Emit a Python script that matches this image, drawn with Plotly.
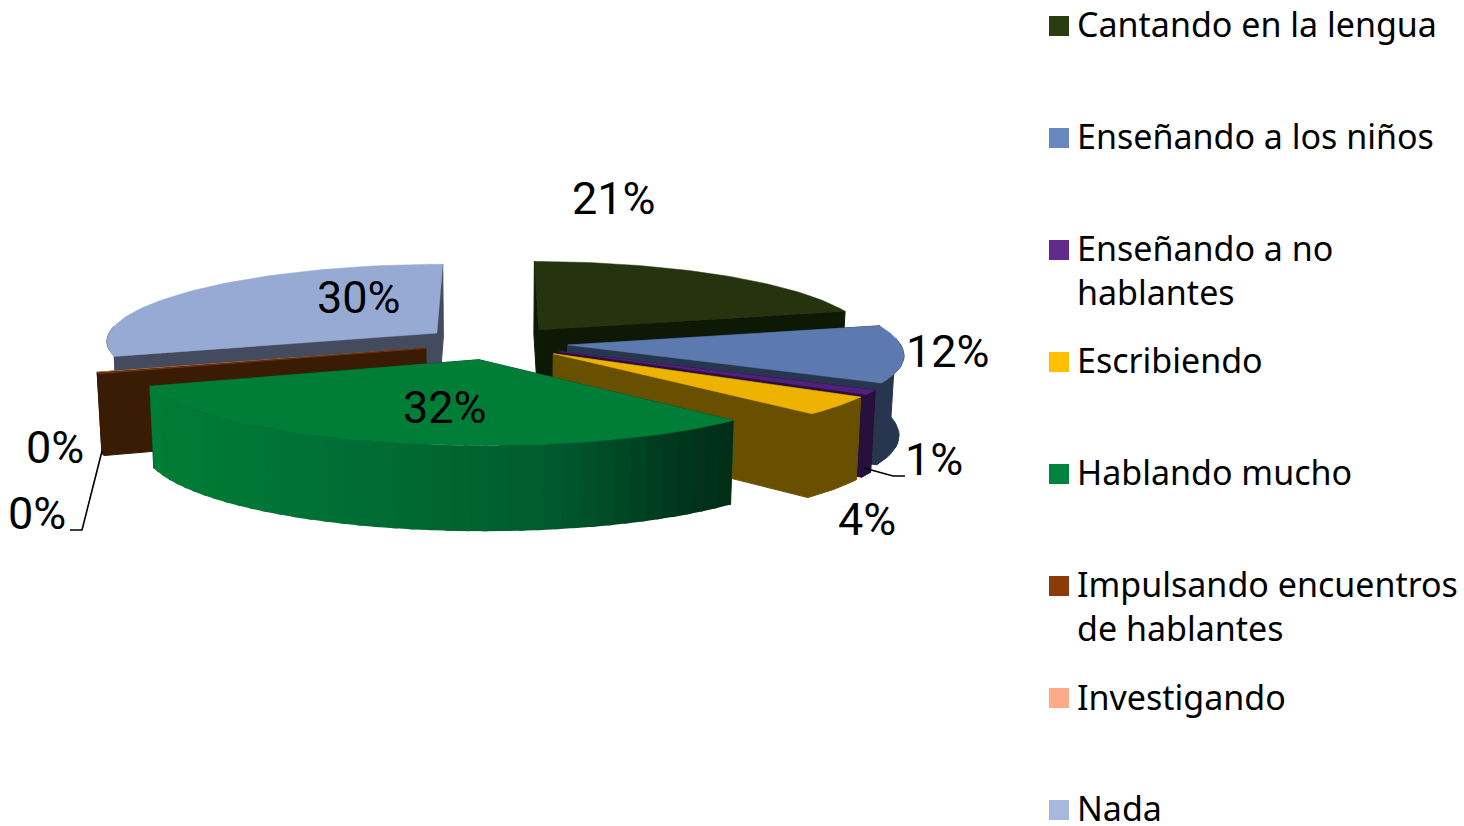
import numpy as np
import plotly.graph_objects as go

categories = ["Cantando en la lengua", "Enseñando a los niños", "Enseñando a no<br>hablantes",
              "Escribiendo", "Hablando mucho", "Impulsando encuentros<br>de hablantes",
              "Investigando", "Nada"]
values = [21, 12, 1, 4, 32, 0.25, 0.15, 30]
labels = ["21%", "12%", "1%", "4%", "32%", "0%", "0%", "30%"]
top_colors = ["#26330f", "#5c7ab0", "#50207a", "#eeb200", "#007d37", "#7a3a10", "#d98a66", "#96aad4"]
side_colors = ["#0d1905", "#28354f", "#28103c", "#695000", "#005028", "#3a1c05", "#3a1c05", "#444b5f"]
legend_colors = ["#2a3d10", "#6688bf", "#632a8e", "#ffc000", "#00843d", "#8c3a0a", "#ffab8a", "#a6b8de"]
label_xy = [(614, 198), (948, 351), (934, 459), (867, 519), (445, 407), (55, 447), (37, 513), (359, 297)]
legend_y = [26, 138, 250, 362, 474, 586, 698, 810]
legend_text_y = [24, 136, 270, 360, 472, 606, 697, 808]
green_shade_angles = [137, 150, 170, 200, 230, 252]
green_shades = [(0, 46, 24), (0, 58, 30), (0, 92, 46), (0, 110, 52), (0, 122, 54), (0, 126, 56)]

CX, CY, RX, RY, EXPLODE, PX, PY, DEPTH, SHEAR = 495, 343, 332, 76.8, 0.22, 0.10, 0.082, 79, 0.02
LABEL_FONT = "Roboto"
LEGEND_FONT = "Noto Sans"


def project(X, Y, z=0.0):
    X, Y = np.asarray(X, float), np.asarray(Y, float)
    sx = (X * RX * (1 - PX * Y) + SHEAR * RX * np.maximum(-Y, 0)) * (1 - 0.012 * z)
    sy = Y * RY * (1 - PY * Y)
    return CX + sx, CY - sy + z * DEPTH * (1 - 0.07 * Y)


def poly(fig, xs, ys, color, width=0.5):
    fig.add_trace(go.Scatter(x=list(xs), y=list(ys), mode="lines", fill="toself", fillcolor=color,
                             line=dict(color=color, width=width), hoverinfo="skip", showlegend=False))


total = sum(values)
edges = np.concatenate([[0], np.cumsum(values)]) / total * 360
fig = go.Figure()
order = [7, 0, 1, 2, 3, 6, 5, 4]

for i in order:
    a0, a1 = edges[i], edges[i + 1]
    mid = np.radians((a0 + a1) / 2)
    ox, oy = EXPLODE * np.sin(mid), EXPLODE * np.cos(mid)
    th = np.radians(np.linspace(a0, a1, 60))
    RimX, RimY = ox + np.sin(th), oy + np.cos(th)
    for a in (a0, a1):
        r = np.radians(a)
        XX = np.array([ox, ox + np.sin(r)])
        YY = np.array([oy, oy + np.cos(r)])
        tx, ty = project(XX, YY, 0)
        bx, by = project(XX, YY, 1)
        poly(fig, [tx[0], tx[1], bx[1], bx[0], tx[0]], [ty[0], ty[1], by[1], by[0], ty[0]], side_colors[i], width=1)
    lo, hi = max(a0, 85), min(a1, 275)
    if hi > lo:
        n = 40 if categories[i] == "Hablando mucho" else 1
        steps = np.linspace(lo, hi, n + 1)
        for s0, s1 in zip(steps[:-1], steps[1:]):
            s_end = min(s1 + 1.0, hi)
            seg = np.radians(np.linspace(s0, s_end, 14))
            tx, ty = project(ox + np.sin(seg), oy + np.cos(seg), 0)
            bx, by = project(ox + np.sin(seg), oy + np.cos(seg), 1)
            if n > 1:
                m = (s0 + s1) / 2
                rgb = [np.interp(m, green_shade_angles, [c[k] for c in green_shades]) for k in range(3)]
                col = "rgb(%d,%d,%d)" % tuple(rgb)
            else:
                col = side_colors[i]
            poly(fig, list(tx) + list(bx[::-1]) + [tx[0]], list(ty) + list(by[::-1]) + [ty[0]], col,
                 width=0 if n > 1 else 1)
    tx, ty = project(RimX, RimY, 0)
    ax, ay = project(ox, oy, 0)
    poly(fig, [float(ax)] + list(tx) + [float(ax)], [float(ay)] + list(ty) + [float(ay)], top_colors[i])

fig.add_trace(go.Scatter(x=[70, 82, 102], y=[530, 530, 451], mode="lines", line=dict(color="black", width=1.6),
                         hoverinfo="skip", showlegend=False))
fig.add_trace(go.Scatter(x=[905, 893, 864], y=[476, 476, 468], mode="lines", line=dict(color="black", width=1.6),
                         hoverinfo="skip", showlegend=False))

fig.add_trace(go.Scatter(x=[1059] * len(legend_y), y=legend_y, mode="markers",
                         marker=dict(symbol="square", size=20, color=legend_colors, line=dict(width=0)),
                         hoverinfo="skip", showlegend=False))

annotations = []
for t, (x, y) in zip(labels, label_xy):
    annotations.append(dict(x=x, y=y, xref="x", yref="y", text=t, showarrow=False,
                            font=dict(family=LABEL_FONT, size=45, color="black")))
for t, y in zip(categories, legend_text_y):
    annotations.append(dict(x=1078, y=y, xref="x", yref="y", text=t, showarrow=False, xanchor="left", align="left",
                            xshift=-3, font=dict(family=LEGEND_FONT, size=34, color="black")))

fig.update_layout(width=1464, height=826, margin=dict(l=0, r=0, t=0, b=0),
                  paper_bgcolor="white", plot_bgcolor="white", annotations=annotations,
                  xaxis=dict(range=[0, 1464], visible=False, fixedrange=True),
                  yaxis=dict(range=[826, 0], visible=False, fixedrange=True))
fig.write_html("out.html", config=dict(displayModeBar=False),
               post_script="document.body.style.margin='0';document.documentElement.style.overflow='hidden';")
